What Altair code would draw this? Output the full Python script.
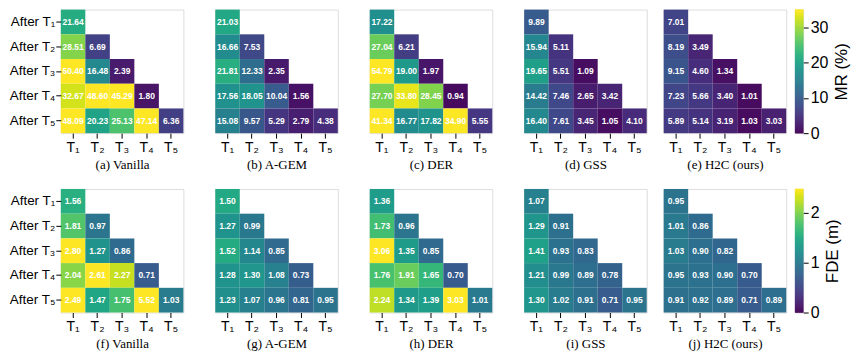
import altair as alt
import numpy as np
import pandas as pd

cols = ["T₁", "T₂", "T₃", "T₄", "T₅"]
rows = ["After T₁", "After T₂", "After T₃", "After T₄", "After T₅"]

methods = ["Vanilla", "A-GEM", "DER", "GSS", "H2C (ours)"]
letters_mr = ["(a)", "(b)", "(c)", "(d)", "(e)"]
letters_fde = ["(f)", "(g)", "(h)", "(i)", "(j)"]

mr_vanilla = [[21.64], [28.51, 6.69], [50.40, 16.48, 2.39], [32.67, 48.60, 45.29, 1.80], [48.09, 20.23, 25.13, 47.14, 6.36]]
mr_agem = [[21.03], [16.66, 7.53], [21.81, 12.33, 2.35], [17.56, 18.05, 10.04, 1.56], [15.08, 9.57, 5.29, 2.79, 4.38]]
mr_der = [[17.22], [27.04, 6.21], [54.79, 19.00, 1.97], [27.70, 33.80, 28.45, 0.94], [41.34, 16.77, 17.82, 34.90, 5.55]]
mr_gss = [[9.89], [15.94, 5.11], [19.65, 5.51, 1.09], [14.42, 7.46, 2.65, 3.42], [16.40, 7.61, 3.45, 1.05, 4.10]]
mr_h2c = [[7.01], [8.19, 3.49], [9.15, 4.60, 1.34], [7.23, 5.66, 3.40, 1.01], [5.89, 5.14, 3.19, 1.03, 3.03]]

fde_vanilla = [[1.56], [1.81, 0.97], [2.80, 1.27, 0.86], [2.04, 2.61, 2.27, 0.71], [2.49, 1.47, 1.75, 5.52, 1.03]]
fde_agem = [[1.50], [1.27, 0.99], [1.52, 1.14, 0.85], [1.28, 1.30, 1.08, 0.73], [1.23, 1.07, 0.96, 0.81, 0.95]]
fde_der = [[1.36], [1.73, 0.96], [3.06, 1.35, 0.85], [1.76, 1.91, 1.65, 0.70], [2.24, 1.34, 1.39, 3.03, 1.01]]
fde_gss = [[1.07], [1.29, 0.91], [1.41, 0.93, 0.83], [1.21, 0.99, 0.89, 0.78], [1.30, 1.02, 0.91, 0.71, 0.95]]
fde_h2c = [[0.95], [1.01, 0.86], [1.03, 0.90, 0.82], [0.95, 0.93, 0.90, 0.70], [0.91, 0.92, 0.89, 0.71, 0.89]]

mr_all = [mr_vanilla, mr_agem, mr_der, mr_gss, mr_h2c]
fde_all = [fde_vanilla, fde_agem, fde_der, fde_gss, fde_h2c]

MR_DOMAIN = [0, 35]
FDE_DOMAIN = [0, 2.48]

SANS = "Liberation Sans"
SERIF = "Liberation Serif"
PW, PH = 123, 124


def panel(vals, caption, domain, show_y):
    recs = []
    for i, r in enumerate(vals):
        for j, v in enumerate(r):
            recs.append({"row": rows[i], "col": cols[j], "v": v, "label": f"{v:.2f}"})
    df = pd.DataFrame(recs)
    base = alt.Chart(df)
    x = alt.X("col:N", sort=cols,
              scale=alt.Scale(domain=cols, paddingInner=0, paddingOuter=0),
              axis=alt.Axis(title=caption, labelAngle=0, labelFont=SANS, labelFontSize=14,
                            labelColor="black", titleFont=SERIF, titleFontSize=13,
                            titleFontWeight="normal", titleColor="black", titlePadding=4,
                            tickSize=5, tickColor="black", tickWidth=1, domain=False,
                            labelPadding=2))
    if show_y:
        yaxis = alt.Axis(title=None, labelFont=SANS, labelFontSize=13.5, labelColor="black",
                         tickSize=5, tickColor="black", tickWidth=1, domain=False,
                         labelPadding=1)
    else:
        yaxis = None
    y = alt.Y("row:N", sort=rows,
              scale=alt.Scale(domain=rows, paddingInner=0, paddingOuter=0),
              axis=yaxis)
    rect = base.mark_rect().encode(
        x=x, y=y,
        color=alt.Color("v:Q", scale=alt.Scale(scheme="viridis", domain=domain, clamp=True, nice=False),
                        legend=None))
    text = base.mark_text(color="white", font=SANS, fontWeight="bold", fontSize=8.5).encode(
        x=x, y=y, text="label:N")
    return alt.layer(rect, text).properties(width=PW, height=PH)


def colorbar(domain, ticks, title):
    s = np.linspace(domain[0], domain[1], 125)
    df = pd.DataFrame({"v0": s[:-1], "v1": s[1:], "v": (s[:-1] + s[1:]) / 2})
    sc = alt.Scale(scheme="viridis", domain=domain, clamp=True, nice=False)
    return alt.Chart(df).mark_rect(strokeWidth=0.6).encode(
        x=alt.value(0), x2=alt.value(8),
        y=alt.Y("v0:Q", scale=alt.Scale(domain=domain, nice=False, zero=False),
                axis=alt.Axis(orient="right", values=ticks, format="d", title=title,
                              titleAngle=270, titleBaseline="top", titleFont=SANS, titleFontSize=17,
                              titleFontWeight="normal", titleColor="black", titlePadding=6,
                              labelFont=SANS, labelFontSize=16, labelColor="black",
                              tickSize=5, tickColor="black", domain=False, grid=False,
                              labelPadding=2)),
        y2="v1",
        color=alt.Color("v:Q", scale=sc, legend=None),
        stroke=alt.Color("v:Q", scale=sc, legend=None),
    ).properties(width=8, height=PH)


def row(all_vals, letters, domain, ticks, cbtitle):
    ps = [panel(all_vals[k], f"{letters[k]} {methods[k]}", domain, k == 0) for k in range(5)]
    left = alt.hconcat(*ps[:4], spacing=30)
    right = alt.hconcat(ps[4], colorbar(domain, ticks, cbtitle), spacing=7)
    return alt.hconcat(left, right, spacing=15)


top = row(mr_all, letters_mr, MR_DOMAIN, [0, 10, 20, 30], "MR (%)")
bottom = row(fde_all, letters_fde, FDE_DOMAIN, [0, 1, 2], "FDE (m)")

chart = alt.vconcat(top, bottom, spacing=16).resolve_scale(color="independent", stroke="independent").properties(
    padding=0
).configure_view(fill="#f4f4f4", stroke="black", strokeWidth=1.5).configure(background="white")

chart.save("out.html", embed_options={"renderer": "svg", "actions": False})
